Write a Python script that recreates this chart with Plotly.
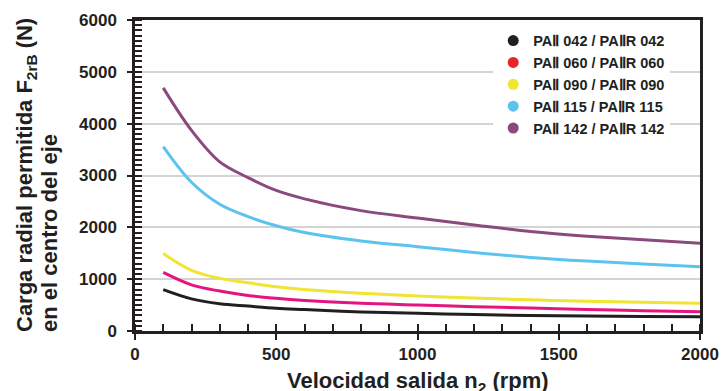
import plotly.graph_objects as go

rpm = [100, 200, 300, 400, 500, 600, 800, 1000, 1200, 1400, 1600, 1800, 2000]
f_042 = [798, 620, 525, 480, 438, 413, 368, 342, 318, 298, 288, 280, 276]
f_060 = [1130, 890, 770, 686, 631, 590, 534, 502, 470, 442, 415, 393, 373]
f_090 = [1495, 1170, 1015, 930, 855, 800, 728, 676, 635, 602, 575, 555, 535]
f_115 = [3558, 2870, 2445, 2207, 2030, 1900, 1737, 1627, 1515, 1420, 1350, 1295, 1241]
f_142 = [4690, 3870, 3262, 2960, 2712, 2550, 2322, 2180, 2045, 1920, 1830, 1760, 1693]

names = ["PAⅡ 042 / PAⅡR 042", "PAⅡ 060 / PAⅡR 060", "PAⅡ 090 / PAⅡR 090",
         "PAⅡ 115 / PAⅡR 115", "PAⅡ 142 / PAⅡR 142"]
series = [f_042, f_060, f_090, f_115, f_142]
line_colors = ["#231f20", "#e5157f", "#efe532", "#5cc3ee", "#8a4a7d"]
marker_colors = ["#231f20", "#e3262b", "#efe532", "#5cc3ee", "#8a4a7d"]

x_title = "Velocidad salida n<sub>2</sub> (rpm)"
y_title_1 = "Carga radial permitida F<sub>2rB</sub> (N)"
y_title_2 = "en el centro del eje"

FONT = "Liberation Sans"
TITLE_FONT = dict(family=FONT, size=22, weight="bold", color="#231f20")

fig = go.Figure()
for name, ys, lc in zip(names, series, line_colors):
    fig.add_trace(go.Scatter(x=rpm, y=ys, mode="lines", line=dict(color=lc, width=3, shape="spline"),
                             showlegend=False, hoverinfo="skip"))
for name, mc in zip(names, marker_colors):
    fig.add_trace(go.Scatter(x=[None], y=[None], mode="markers", name=name,
                             marker=dict(color=mc, size=11)))

fig.update_layout(
    width=723, height=391,
    margin=dict(l=135, r=23, t=20, b=60),
    paper_bgcolor="white", plot_bgcolor="white",
    font=dict(family=FONT, color="#231f20"),
    legend=dict(x=0.634, y=0.985, xanchor="left", yanchor="top",
                bgcolor="white", borderwidth=0,
                font=dict(family=FONT, size=14.5, weight="bold", color="#231f20"),
                tracegroupgap=0, itemwidth=30),
    xaxis=dict(range=[0, 2000], dtick=500, tick0=0, automargin=False,
               showgrid=False, zeroline=False,
               showline=True, linecolor="#231f20", linewidth=2.5, mirror=True,
               ticks="outside", ticklen=6, tickwidth=1.5, tickcolor="#231f20",
               minor=dict(dtick=100, ticks="inside", ticklen=7, tickwidth=1.5, tickcolor="#231f20"),
               tickfont=dict(family=FONT, size=17, weight="bold")),
    yaxis=dict(range=[0, 6000], dtick=1000, tick0=0, automargin=False,
               showgrid=True, gridcolor="#d4d4d4", gridwidth=1.5, zeroline=False,
               showline=True, linecolor="#231f20", linewidth=2.5, mirror=True,
               ticks="outside", ticklen=5, tickwidth=1.5, tickcolor="#231f20",
               ticklabelstandoff=7,
               minor=dict(dtick=100, ticks="inside", ticklen=7, tickwidth=1.5, tickcolor="#231f20",
                          showgrid=False),
               tickfont=dict(family=FONT, size=17, weight="bold")),
    annotations=[
        dict(text=x_title, xref="paper", yref="paper", x=0.5, y=0, xanchor="center", yanchor="top",
             yshift=-35, showarrow=False, font=TITLE_FONT),
        dict(text=y_title_1, xref="paper", yref="paper", x=0, y=0, xanchor="center", yanchor="bottom",
             xshift=-109, yshift=-3, textangle=-90, showarrow=False, font=TITLE_FONT),
        dict(text=y_title_2, xref="paper", yref="paper", x=0, y=0, xanchor="center", yanchor="bottom",
             xshift=-86, yshift=-3, textangle=-90, showarrow=False, font=TITLE_FONT),
    ],
)

fig.write_html("out.html", config={"displayModeBar": False},
               post_script="document.body.style.margin='0';document.body.style.overflow='hidden';")
